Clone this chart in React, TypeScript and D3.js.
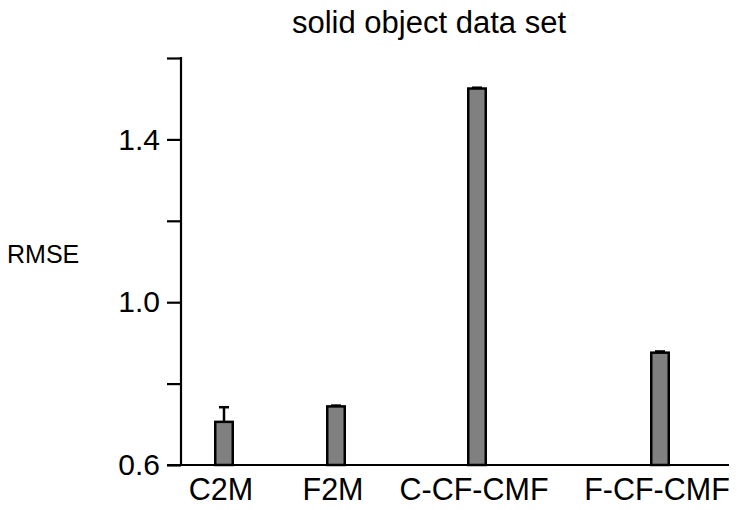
import { useEffect, useRef } from 'react'
import * as d3 from 'd3'

const categories = ['C2M', 'F2M', 'C-CF-CMF', 'F-CF-CMF']
const rmse = [0.706, 0.744, 1.525, 0.876]
const errors = [0.036, 0.002, 0.002, 0.003]
const yTicks = [0.6, 0.8, 1.0, 1.2, 1.4, 1.6]
const yLabeled = [0.6, 1.0, 1.4]

const font = 'Liberation Sans, Arial, Helvetica, sans-serif'

export default function App() {
  const ref = useRef<SVGSVGElement>(null)

  useEffect(() => {
    const svg = d3.select(ref.current)
    svg.selectAll('*').remove()

    const y = d3.scaleLinear().domain([0.6, 1.6]).range([465, 58])
    const x = d3
      .scaleOrdinal<string, number>()
      .domain(categories)
      .range([224, 336, 477, 660])

    const axisX = 181

    // y axis
    const yAxis = d3
      .axisLeft(y)
      .tickValues(yTicks)
      .tickSize(14)
      .tickPadding(7)
      .tickFormat((d) => (yLabeled.includes(+d) ? d3.format('.1f')(+d) : ''))

    const gy = svg
      .append('g')
      .attr('transform', `translate(${axisX},0)`)
      .call(yAxis)
    gy.select('.domain').remove()
    gy.selectAll('line').attr('stroke', '#000').attr('stroke-width', 2.2)
    gy.selectAll('text')
      .attr('fill', '#000')
      .style('font-family', font)
      .style('font-size', '30px')

    svg
      .append('line')
      .attr('x1', axisX)
      .attr('x2', axisX)
      .attr('y1', y(1.6) - 1)
      .attr('y2', y(0.6))
      .attr('stroke', '#000')
      .attr('stroke-width', 2.2)

    // x axis baseline
    svg
      .append('line')
      .attr('x1', axisX - 14)
      .attr('x2', 729)
      .attr('y1', y(0.6))
      .attr('y2', y(0.6))
      .attr('stroke', '#000')
      .attr('stroke-width', 2.2)

    const data = categories.map((c, i) => ({ c, v: rmse[i], e: errors[i] }))
    const bw = 17.5

    // error bars
    const eg = svg.append('g')
    data.forEach((d) => {
      const cx = x(d.c)
      eg.append('line')
        .attr('x1', cx)
        .attr('x2', cx)
        .attr('y1', y(d.v))
        .attr('y2', y(d.v + d.e))
        .attr('stroke', '#000')
        .attr('stroke-width', 2.5)
      eg.append('line')
        .attr('x1', cx - 5)
        .attr('x2', cx + 5)
        .attr('y1', y(d.v + d.e))
        .attr('y2', y(d.v + d.e))
        .attr('stroke', '#000')
        .attr('stroke-width', 2.5)
    })

    svg
      .append('g')
      .selectAll('rect')
      .data(data)
      .enter()
      .append('rect')
      .attr('x', (d) => x(d.c) - bw / 2)
      .attr('width', bw)
      .attr('y', (d) => y(d.v))
      .attr('height', (d) => y(0.6) - y(d.v))
      .attr('fill', '#808080')
      .attr('stroke', '#000')
      .attr('stroke-width', 2.5)

    svg
      .append('g')
      .selectAll('text')
      .data(categories)
      .enter()
      .append('text')
      .attr('x', (d) => x(d) - 3)
      .attr('y', 500)
      .attr('text-anchor', 'middle')
      .style('font-family', font)
      .style('font-size', '30.5px')
      .text((d) => d)

    svg
      .append('text')
      .attr('x', 429)
      .attr('y', 33)
      .attr('text-anchor', 'middle')
      .style('font-family', font)
      .style('font-size', '31px')
      .text('solid object data set')

    svg
      .append('text')
      .attr('x', 7)
      .attr('y', 263)
      .style('font-family', font)
      .style('font-size', '25px')
      .text('RMSE')
  }, [])

  return (
    <svg
      ref={ref}
      width={737}
      height={510}
      style={{ position: 'absolute', left: 0, top: 0, background: '#fff' }}
    />
  )
}
